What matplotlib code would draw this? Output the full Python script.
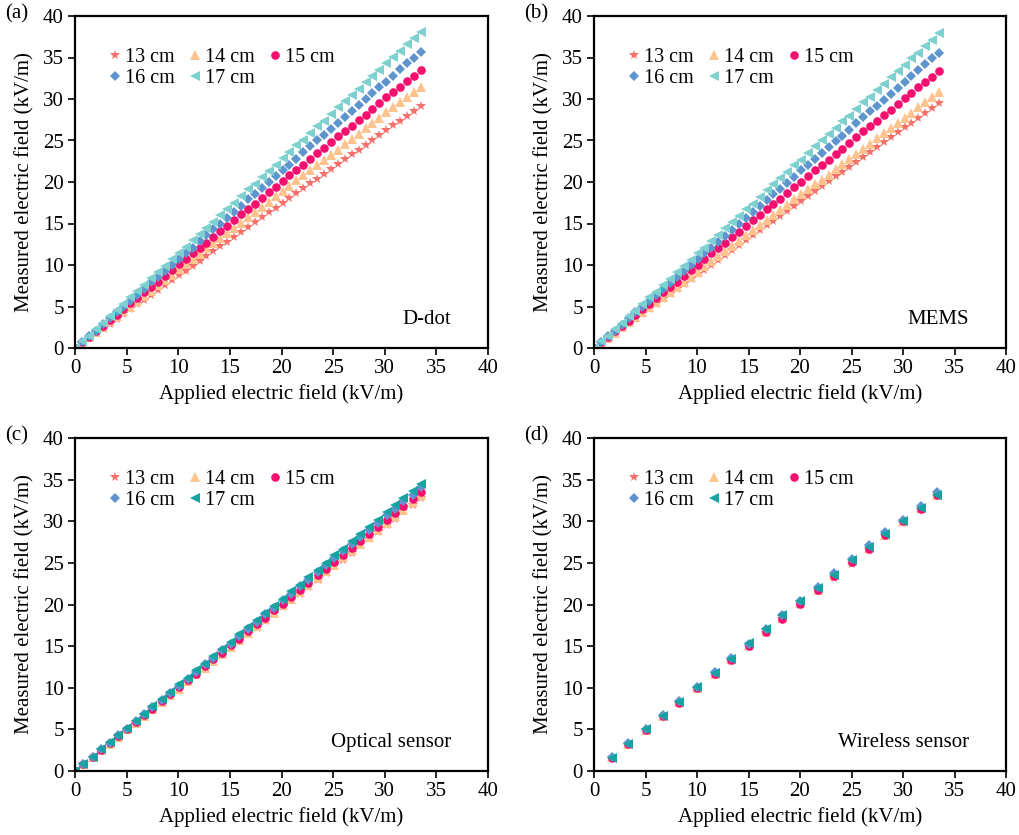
import matplotlib
matplotlib.use("Agg")
import matplotlib.pyplot as plt

plt.rcParams['font.family'] = ['Liberation Serif', 'DejaVu Serif']

# ---------------- data ----------------
series_labels = ["13 cm", "14 cm", "15 cm", "16 cm", "17 cm"]
panel_tags = ["(a)", "(b)", "(c)", "(d)"]
panel_names = ["D-dot", "MEMS", "Optical sensor", "Wireless sensor"]

# applied field for (a) and (b)
applied_ab = [0.0, 0.67, 1.34, 2.01, 2.68, 3.35, 4.02, 4.69, 5.36, 6.03, 6.70, 7.37, 8.04,
              8.71, 9.38, 10.05, 10.72, 11.39, 12.06, 12.73, 13.40, 14.07, 14.74, 15.41,
              16.08, 16.75, 17.42, 18.09, 18.76, 19.43, 20.10, 20.77, 21.44, 22.11, 22.78,
              23.45, 24.12, 24.79, 25.46, 26.13, 26.80, 27.47, 28.14, 28.81, 29.48, 30.15,
              30.82, 31.49, 32.16, 32.83, 33.50]

# (a) D-dot
ddot_13 = [0, 0.6, 1.2, 1.8, 2.3, 2.9, 3.5, 4.1, 4.7, 5.3, 5.8, 6.4, 7.0, 7.6, 8.2, 8.8, 9.3,
           9.9, 10.5, 11.1, 11.7, 12.3, 12.8, 13.4, 14.0, 14.6, 15.2, 15.8, 16.4, 16.9, 17.5,
           18.1, 18.7, 19.3, 19.9, 20.4, 21.0, 21.6, 22.2, 22.8, 23.4, 23.9, 24.5, 25.1, 25.7,
           26.3, 26.9, 27.4, 28.0, 28.6, 29.2]
ddot_14 = [0, 0.6, 1.3, 1.9, 2.5, 3.2, 3.8, 4.4, 5.0, 5.7, 6.3, 6.9, 7.6, 8.2, 8.8, 9.5, 10.1,
           10.7, 11.3, 12.0, 12.6, 13.2, 13.9, 14.5, 15.1, 15.8, 16.4, 17.0, 17.6, 18.3, 18.9,
           19.5, 20.2, 20.8, 21.4, 22.1, 22.7, 23.3, 23.9, 24.6, 25.2, 25.8, 26.5, 27.1, 27.7,
           28.4, 29.0, 29.6, 30.2, 30.9, 31.5]
ddot_15 = [0, 0.7, 1.3, 2.0, 2.7, 3.4, 4.0, 4.7, 5.4, 6.0, 6.7, 7.4, 8.0, 8.7, 9.4, 10.1, 10.7,
           11.4, 12.1, 12.7, 13.4, 14.1, 14.7, 15.4, 16.1, 16.8, 17.4, 18.1, 18.8, 19.4, 20.1,
           20.8, 21.4, 22.1, 22.8, 23.5, 24.1, 24.8, 25.5, 26.1, 26.8, 27.5, 28.1, 28.8, 29.5,
           30.2, 30.8, 31.5, 32.2, 32.8, 33.5]
ddot_16 = [0, 0.7, 1.4, 2.1, 2.9, 3.6, 4.3, 5.0, 5.7, 6.4, 7.1, 7.9, 8.6, 9.3, 10.0, 10.7,
           11.4, 12.1, 12.9, 13.6, 14.3, 15.0, 15.7, 16.4, 17.1, 17.9, 18.6, 19.3, 20.0, 20.7,
           21.4, 22.1, 22.8, 23.6, 24.3, 25.0, 25.7, 26.4, 27.1, 27.8, 28.6, 29.3, 30.0, 30.7,
           31.4, 32.1, 32.8, 33.6, 34.3, 35.0, 35.7]
ddot_17 = [0, 0.8, 1.5, 2.3, 3.0, 3.8, 4.6, 5.3, 6.1, 6.9, 7.6, 8.4, 9.1, 9.9, 10.7, 11.4,
           12.2, 13.0, 13.7, 14.5, 15.2, 16.0, 16.8, 17.5, 18.3, 19.1, 19.8, 20.6, 21.3, 22.1,
           22.9, 23.6, 24.4, 25.1, 25.9, 26.7, 27.4, 28.2, 29.0, 29.7, 30.5, 31.2, 32.0, 32.8,
           33.5, 34.3, 35.1, 35.8, 36.6, 37.3, 38.1]

# (b) MEMS
mems_13 = [0, 0.6, 1.2, 1.8, 2.4, 3.0, 3.5, 4.1, 4.7, 5.3, 5.9, 6.5, 7.1, 7.7, 8.3, 8.9, 9.4,
           10.0, 10.6, 11.2, 11.8, 12.4, 13.0, 13.6, 14.2, 14.8, 15.3, 15.9, 16.5, 17.1, 17.7,
           18.3, 18.9, 19.5, 20.1, 20.7, 21.2, 21.8, 22.4, 23.0, 23.6, 24.2, 24.8, 25.4, 26.0,
           26.6, 27.1, 27.7, 28.3, 28.9, 29.5]
mems_14 = [0, 0.6, 1.2, 1.8, 2.5, 3.1, 3.7, 4.3, 4.9, 5.5, 6.2, 6.8, 7.4, 8.0, 8.6, 9.2, 9.9,
           10.5, 11.1, 11.7, 12.3, 12.9, 13.6, 14.2, 14.8, 15.4, 16.0, 16.6, 17.2, 17.9, 18.5,
           19.1, 19.7, 20.3, 20.9, 21.6, 22.2, 22.8, 23.4, 24.0, 24.6, 25.3, 25.9, 26.5, 27.1,
           27.7, 28.3, 29.0, 29.6, 30.2, 30.8]
mems_15 = [0, 0.7, 1.3, 2.0, 2.7, 3.3, 4.0, 4.7, 5.3, 6.0, 6.7, 7.3, 8.0, 8.7, 9.4, 10.0, 10.7,
           11.4, 12.0, 12.7, 13.4, 14.0, 14.7, 15.4, 16.0, 16.7, 17.4, 18.0, 18.7, 19.4, 20.0,
           20.7, 21.4, 22.0, 22.7, 23.4, 24.0, 24.7, 25.4, 26.1, 26.7, 27.4, 28.1, 28.7, 29.4,
           30.1, 30.7, 31.4, 32.1, 32.7, 33.4]
mems_16 = [0, 0.7, 1.4, 2.1, 2.8, 3.6, 4.3, 5.0, 5.7, 6.4, 7.1, 7.8, 8.5, 9.3, 10.0, 10.7,
           11.4, 12.1, 12.8, 13.5, 14.2, 15.0, 15.7, 16.4, 17.1, 17.8, 18.5, 19.2, 19.9, 20.6,
           21.4, 22.1, 22.8, 23.5, 24.2, 24.9, 25.6, 26.3, 27.1, 27.8, 28.5, 29.2, 29.9, 30.6,
           31.3, 32.0, 32.8, 33.5, 34.2, 34.9, 35.6]
mems_17 = [0, 0.8, 1.5, 2.3, 3.0, 3.8, 4.5, 5.3, 6.1, 6.8, 7.6, 8.3, 9.1, 9.9, 10.6, 11.4,
           12.1, 12.9, 13.6, 14.4, 15.2, 15.9, 16.7, 17.4, 18.2, 19.0, 19.7, 20.5, 21.2, 22.0,
           22.7, 23.5, 24.3, 25.0, 25.8, 26.5, 27.3, 28.0, 28.8, 29.6, 30.3, 31.1, 31.8, 32.6,
           33.4, 34.1, 34.9, 35.6, 36.4, 37.1, 37.9]

# applied field for (c)
applied_c = [0.0, 0.8, 1.7, 2.5, 3.4, 4.2, 5.0, 5.9, 6.7, 7.5, 8.4, 9.2, 10.1, 10.9,
             11.7, 12.6, 13.4, 14.2, 15.1, 15.9, 16.8, 17.6, 18.4, 19.3, 20.1, 20.9,
             21.8, 22.6, 23.5, 24.3, 25.1, 26.0, 26.8, 27.6, 28.5, 29.3, 30.2, 31.0,
             31.8, 32.7, 33.5]

# (c) Optical sensor
opt_13 = [0, 0.8, 1.6, 2.5, 3.3, 4.1, 4.9, 5.7, 6.6, 7.4, 8.2, 9.0, 9.8, 10.7, 11.5, 12.3,
          13.1, 13.9, 14.8, 15.6, 16.4, 17.2, 18.0, 18.9, 19.7, 20.5, 21.3, 22.1, 23.0,
          23.8, 24.6, 25.4, 26.2, 27.1, 27.9, 28.7, 29.5, 30.3, 31.2, 32.0, 32.8]
opt_14 = [0, 0.8, 1.7, 2.5, 3.3, 4.1, 5.0, 5.8, 6.6, 7.4, 8.3, 9.1, 9.9, 10.8, 11.6, 12.4,
          13.2, 14.1, 14.9, 15.7, 16.6, 17.4, 18.2, 19.0, 19.9, 20.7, 21.5, 22.3, 23.2,
          24.0, 24.8, 25.7, 26.5, 27.3, 28.1, 29.0, 29.8, 30.6, 31.4, 32.3, 33.1]
opt_15 = [0, 0.8, 1.7, 2.5, 3.4, 4.2, 5.0, 5.9, 6.7, 7.5, 8.4, 9.2, 10.1, 10.9, 11.7, 12.6,
          13.4, 14.2, 15.1, 15.9, 16.8, 17.6, 18.4, 19.3, 20.1, 20.9, 21.8, 22.6, 23.5,
          24.3, 25.1, 26.0, 26.8, 27.6, 28.5, 29.3, 30.2, 31.0, 31.8, 32.7, 33.5]
opt_16 = [0, 0.9, 1.7, 2.6, 3.4, 4.3, 5.1, 6.0, 6.8, 7.7, 8.5, 9.4, 10.2, 11.1, 11.9, 12.8,
          13.6, 14.5, 15.3, 16.2, 17.1, 17.9, 18.8, 19.6, 20.5, 21.3, 22.2, 23.0, 23.9,
          24.7, 25.6, 26.4, 27.3, 28.1, 29.0, 29.8, 30.7, 31.5, 32.4, 33.2, 34.1]
opt_17 = [0, 0.9, 1.7, 2.6, 3.5, 4.3, 5.2, 6.0, 6.9, 7.8, 8.6, 9.5, 10.4, 11.2, 12.1, 12.9,
          13.8, 14.7, 15.5, 16.4, 17.3, 18.1, 19.0, 19.8, 20.7, 21.6, 22.4, 23.3, 24.2,
          25.0, 25.9, 26.7, 27.6, 28.5, 29.3, 30.2, 31.1, 31.9, 32.8, 33.6, 34.5]

# (d) Wireless sensor
applied_d = [1.7, 3.3, 5.0, 6.7, 8.3, 10.0, 11.7, 13.3, 15.0, 16.7, 18.3, 20.0, 21.7, 23.3,
             25.0, 26.7, 28.3, 30.0, 31.7, 33.3]
wl_13 = [1.6, 3.2, 4.8, 6.5, 8.2, 9.9, 11.6, 13.2, 14.9, 16.6, 18.2, 20.0, 21.6, 23.2, 24.9,
         26.6, 28.2, 29.8, 31.4, 33.0]
wl_14 = [1.7, 3.3, 4.9, 6.6, 8.3, 10.0, 11.7, 13.4, 15.1, 16.8, 18.4, 20.2, 21.8, 23.5, 25.2,
         26.8, 28.4, 30.0, 31.6, 33.2]
wl_15 = [1.6, 3.3, 4.9, 6.6, 8.2, 10.0, 11.7, 13.3, 15.0, 16.7, 18.3, 20.1, 21.8, 23.4, 25.1,
         26.7, 28.4, 30.0, 31.5, 33.1]
wl_16 = [1.7, 3.4, 5.0, 6.7, 8.4, 10.1, 11.9, 13.6, 15.3, 17.0, 18.7, 20.4, 22.1, 23.8, 25.5,
         27.1, 28.7, 30.2, 31.8, 33.5]
wl_17 = [1.6, 3.3, 5.0, 6.6, 8.3, 10.1, 11.8, 13.5, 15.4, 17.1, 18.7, 20.4, 22.0, 23.6, 25.3,
         26.9, 28.5, 30.0, 31.6, 33.2]

panels = [
    (applied_ab, [ddot_13, ddot_14, ddot_15, ddot_16, ddot_17]),
    (applied_ab, [mems_13, mems_14, mems_15, mems_16, mems_17]),
    (applied_c, [opt_13, opt_14, opt_15, opt_16, opt_17]),
    (applied_d, [wl_13, wl_14, wl_15, wl_16, wl_17]),
]

# ---------------- style ----------------
markers = ['*', '^', 'o', 'D', '<']
msizes = [7.6, 7.0, 6.2, 5.6, 7.0]
colors_light = ['#F7716C', '#FFC38E', '#F5106F', '#5E95CF', '#7FD1CF']
colors_dark = ['#F7716C', '#FFC38E', '#F5106F', '#5E95CF', '#16A3A2']

fig = plt.figure(figsize=(10.19, 8.35), dpi=100)
W, H = 1019, 835
rects = [(75, 16, 488, 348), (594, 16, 1006, 348),
         (75, 438, 488, 771), (594, 438, 1006, 771)]
FS = 15

for k, (rect, (xv, ys)) in enumerate(zip(rects, panels)):
    x0, y0, x1, y1 = rect
    ax = fig.add_axes([x0 / W, 1 - y1 / H, (x1 - x0) / W, (y1 - y0) / H])
    cols = colors_light if k < 2 else colors_dark
    handles = []
    for lab, yv, m, ms, c in zip(series_labels, ys, markers, msizes, cols):
        h, = ax.plot(xv, yv, linestyle='none', marker=m, markersize=ms, color=c,
                     markeredgewidth=0, label=lab)
        handles.append(h)
    ax.set_xlim(0, 40)
    ax.set_ylim(0, 40)
    ax.set_xticks(range(0, 41, 5))
    ax.set_yticks(range(0, 41, 5))
    ax.tick_params(direction='out', length=5, width=1.2, labelsize=FS, pad=3,
                   top=False, right=False)
    for s in ax.spines.values():
        s.set_linewidth(1.6)
    ax.set_xlabel("Applied electric field (kV/m)", fontsize=FS, labelpad=4)
    ax.set_ylabel("Measured electric field (kV/m)", fontsize=FS, labelpad=6)
    order = [0, 3, 1, 4, 2]  # row-wise filling: 13,14,15 / 16,17
    ax.legend([handles[i] for i in order], [series_labels[i] for i in order],
              loc='upper left', bbox_to_anchor=(0.085, 0.905), ncol=3, frameon=False,
              fontsize=14.5, handlelength=0.5, handletextpad=0.25,
              columnspacing=0.75, labelspacing=0.12, borderaxespad=0, borderpad=0)
    ax.text(0.91, 0.085, panel_names[k], transform=ax.transAxes, ha='right',
            va='center', fontsize=FS)
    fig.text((x0 - 70) / W, 1 - (y0 - 2) / H, panel_tags[k], ha='left', va='center',
             fontsize=FS)

fig.savefig("out.png", dpi=100)
